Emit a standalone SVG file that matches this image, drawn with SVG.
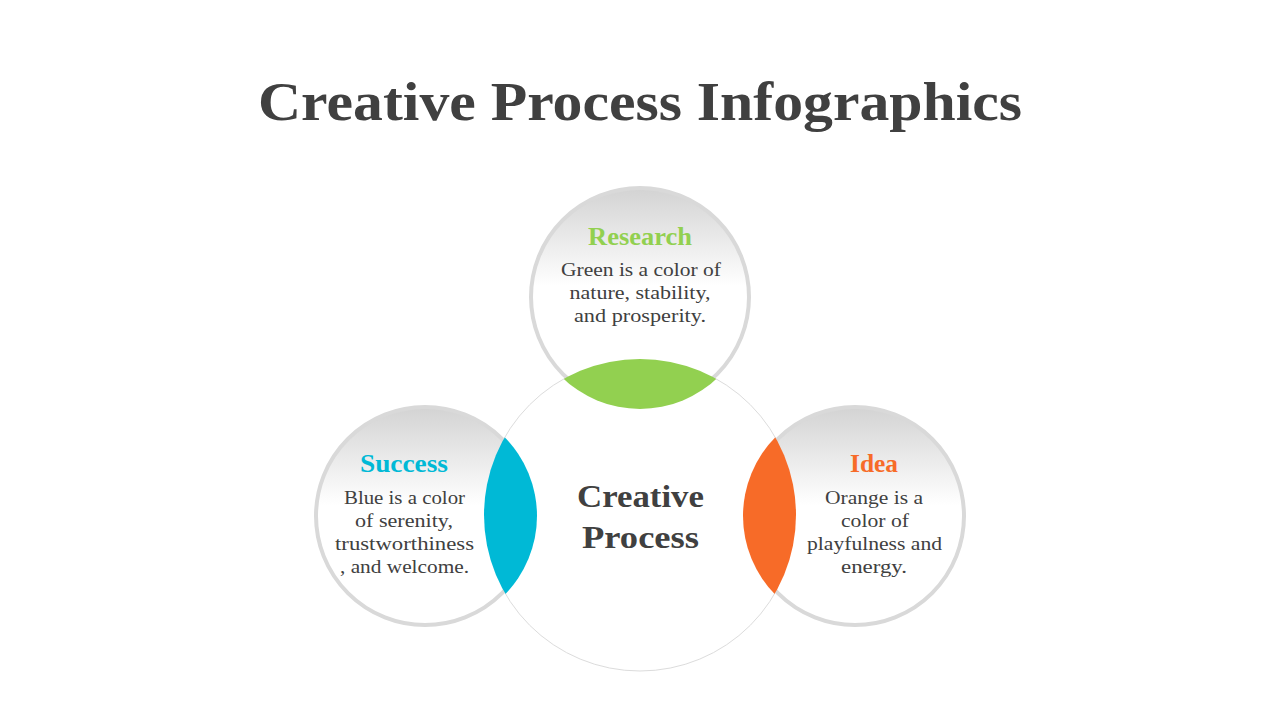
<svg xmlns="http://www.w3.org/2000/svg" width="1280" height="720" viewBox="0 0 1280 720">
<defs>
<style>
.ttl{font-family:"Liberation Serif","DejaVu Serif",serif;font-weight:bold;fill:#404040;text-anchor:middle}
.hd{font-family:"Liberation Serif","DejaVu Serif",serif;font-weight:bold;font-size:25px;text-anchor:middle}
.bd{font-family:"Liberation Serif","DejaVu Serif",serif;font-size:19.5px;fill:#404040;text-anchor:middle}
.sc{fill:url(#g);stroke:#d9d9d9;stroke-width:4}
</style>
<linearGradient id="g" x1="0" y1="0" x2="0" y2="1">
<stop offset="0" stop-color="#d3d3d3"/>
<stop offset="0.45" stop-color="#ffffff"/>
<stop offset="1" stop-color="#ffffff"/>
</linearGradient>
<clipPath id="cT"><circle cx="640" cy="297" r="112"/></clipPath>
<clipPath id="cL"><circle cx="425" cy="516" r="112"/></clipPath>
<clipPath id="cR"><circle cx="855" cy="516" r="112"/></clipPath>
</defs>
<rect width="1280" height="720" fill="#ffffff"/>
<text class="ttl" x="640" y="120" font-size="55" textLength="764" lengthAdjust="spacingAndGlyphs">Creative Process Infographics</text>
<g id="center">
<circle cx="640" cy="515" r="156" fill="#ffffff" stroke="#dcdcdc" stroke-width="1"/>
</g>
<g id="research">
<circle class="sc" cx="640" cy="297" r="109"/>
<circle cx="640" cy="515" r="156" fill="#92d050" clip-path="url(#cT)"/>
<text class="hd" x="640" y="245" fill="#92d050" textLength="104" lengthAdjust="spacingAndGlyphs">Research</text>
<text class="bd" x="641" y="276" textLength="160" lengthAdjust="spacingAndGlyphs">Green is a color of</text>
<text class="bd" x="640" y="299" textLength="141" lengthAdjust="spacingAndGlyphs">nature, stability,</text>
<text class="bd" x="640" y="322" textLength="132" lengthAdjust="spacingAndGlyphs">and prosperity.</text>
</g>
<g id="success">
<circle class="sc" cx="425" cy="516" r="109"/>
<circle cx="640" cy="515" r="156" fill="#00b9d6" clip-path="url(#cL)"/>
<text class="hd" x="404" y="472" fill="#00b9d6" textLength="88" lengthAdjust="spacingAndGlyphs">Success</text>
<text class="bd" x="404.5" y="504" textLength="121" lengthAdjust="spacingAndGlyphs">Blue is a color</text>
<text class="bd" x="404" y="527" textLength="98" lengthAdjust="spacingAndGlyphs">of serenity,</text>
<text class="bd" x="404.5" y="550" textLength="139" lengthAdjust="spacingAndGlyphs">trustworthiness</text>
<text class="bd" x="404.5" y="573" textLength="129" lengthAdjust="spacingAndGlyphs">, and welcome.</text>
</g>
<g id="idea">
<circle class="sc" cx="855" cy="516" r="109"/>
<circle cx="640" cy="515" r="156" fill="#f76b28" clip-path="url(#cR)"/>
<text class="hd" x="874" y="472" fill="#f76b28" textLength="48" lengthAdjust="spacingAndGlyphs">Idea</text>
<text class="bd" x="874" y="504" textLength="98" lengthAdjust="spacingAndGlyphs">Orange is a</text>
<text class="bd" x="875" y="527" textLength="68" lengthAdjust="spacingAndGlyphs">color of</text>
<text class="bd" x="874.5" y="550" textLength="135" lengthAdjust="spacingAndGlyphs">playfulness and</text>
<text class="bd" x="874" y="573" textLength="66" lengthAdjust="spacingAndGlyphs">energy.</text>
</g>
<g id="center-label">
<text class="ttl" x="640.5" y="507" font-size="31" textLength="127" lengthAdjust="spacingAndGlyphs">Creative</text>
<text class="ttl" x="640.5" y="548" font-size="31" textLength="117" lengthAdjust="spacingAndGlyphs">Process</text>
</g>
<g id="connectors"/>
</svg>
